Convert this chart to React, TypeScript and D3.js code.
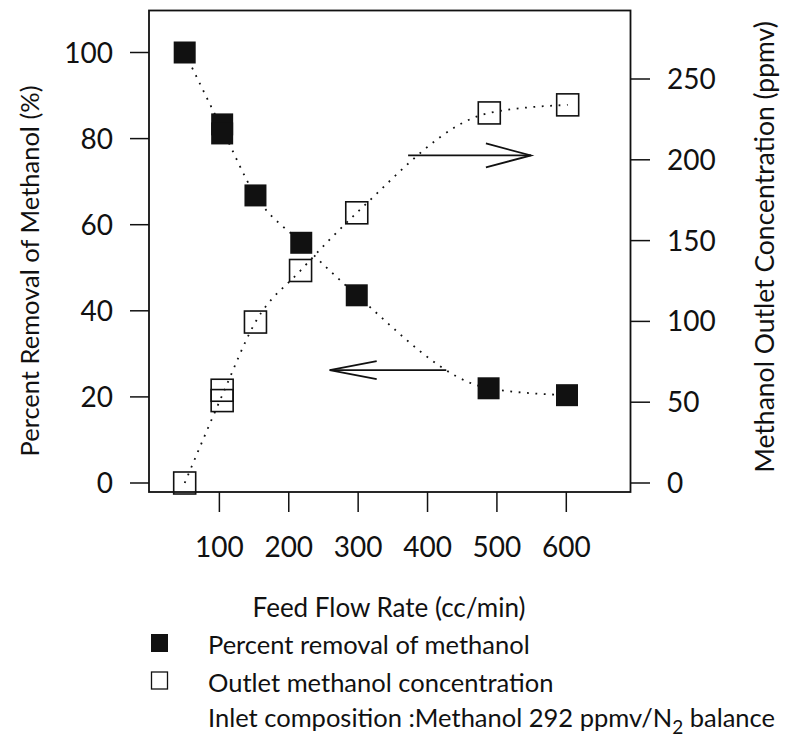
import React from "react";
import * as d3 from "d3";

const flowRemoval = [50, 104, 104, 152, 218, 298, 488, 601];
const removalPct = [100, 83.3, 81.2, 66.8, 55.8, 43.6, 22.0, 20.4];
const flowOutlet = [50, 104, 104, 152, 217, 298, 489, 602];
const outletPpmv = [0, 57.4, 51.0, 99.6, 131.5, 167.2, 229, 234];
const xTicks = [100, 200, 300, 400, 500, 600];
const leftTicks = [0, 20, 40, 60, 80, 100];
const rightTicks = [0, 50, 100, 150, 200, 250];

const W = 802;
const H = 740;
const FONT = "Lato, 'Noto Sans', sans-serif";
const INK = "#111";

const frame = { left: 149, right: 630.5, top: 10.5, bottom: 492 };

const x = d3.scaleLinear().domain([0, 600]).range([150, 566.3]);
const yL = d3.scaleLinear().domain([0, 100]).range([483, 52.5]);
const yR = d3.scaleLinear().domain([0, 250]).range([483, 79]);

type P = { x: number; y: number };

function meanByX(xs: number[], ys: number[]): P[] {
  const r = d3.rollup(
    xs.map((v, i) => ({ x: v, y: ys[i] })),
    (g) => d3.mean(g, (d) => d.y) as number,
    (d) => d.x
  );
  return Array.from(r, ([k, v]) => ({ x: k, y: v })).sort((a, b) => a.x - b.x);
}

export default function App() {
  const remPts = flowRemoval.map((v, i) => ({ x: v, y: removalPct[i] }));
  const outPts = flowOutlet.map((v, i) => ({ x: v, y: outletPpmv[i] }));
  const lineL = d3
    .line<P>()
    .x((d) => x(d.x))
    .y((d) => yL(d.y))
    .curve(d3.curveMonotoneX);
  const lineR = d3
    .line<P>()
    .x((d) => x(d.x))
    .y((d) => yR(d.y))
    .curve(d3.curveMonotoneX);
  const S = 22;

  const arrowR = { x1: 372, x2: 549, y: 202.7 };
  const arrowL = { x1: 259, x2: 427, y: 26.2 };

  return (
    <svg
      width={W}
      height={H}
      style={{ position: "absolute", left: 0, top: 0, background: "#fff" }}
      fontFamily={FONT}
    >
      <rect x={0} y={0} width={W} height={H} fill="#fff" />
      <rect
        x={frame.left}
        y={frame.top}
        width={frame.right - frame.left}
        height={frame.bottom - frame.top}
        fill="none"
        stroke={INK}
        strokeWidth={1.8}
      />
      {leftTicks.map((t) => (
        <g key={"l" + t}>
          <line x1={130} x2={frame.left} y1={yL(t)} y2={yL(t)} stroke={INK} strokeWidth={1.5} />
          <text x={113} y={yL(t)} dy="0.36em" textAnchor="end" fontSize={28} fill={INK}>
            {t}
          </text>
        </g>
      ))}
      {rightTicks.map((t) => (
        <g key={"r" + t}>
          <line x1={frame.right} x2={650} y1={yR(t)} y2={yR(t)} stroke={INK} strokeWidth={1.5} />
          <text x={667} y={yR(t)} dy="0.36em" textAnchor="start" fontSize={28} fill={INK}>
            {t}
          </text>
        </g>
      ))}
      {xTicks.map((t) => (
        <g key={"x" + t}>
          <line x1={x(t)} x2={x(t)} y1={frame.bottom} y2={512} stroke={INK} strokeWidth={1.5} />
          <text x={x(t)} y={557} textAnchor="middle" fontSize={28} fill={INK}>
            {t}
          </text>
        </g>
      ))}
      <text
        transform={`translate(39,271) rotate(-90)`}
        textAnchor="middle"
        fontSize={25.5}
        fill={INK}
      >
        Percent Removal of Methanol (%)
      </text>
      <text
        transform={`translate(774,247) rotate(-90)`}
        textAnchor="middle"
        fontSize={26.5}
        fill={INK}
      >
        Methanol Outlet Concentration (ppmv)
      </text>
      <text x={389} y={617} textAnchor="middle" fontSize={26} fill={INK}>
        Feed Flow Rate (cc/min)
      </text>

      <path
        d={lineL(meanByX(flowRemoval, removalPct)) || ""}
        fill="none"
        stroke={INK}
        strokeWidth={1.8}
        strokeDasharray="1.8 6.6"
      />
      <path
        d={lineR(meanByX(flowOutlet, outletPpmv)) || ""}
        fill="none"
        stroke={INK}
        strokeWidth={1.8}
        strokeDasharray="1.8 6.6"
      />

      {remPts.map((d, i) => (
        <rect key={"f" + i} x={x(d.x) - S / 2} y={yL(d.y) - S / 2} width={S} height={S} fill={INK} />
      ))}
      {outPts.map((d, i) => (
        <rect
          key={"o" + i}
          x={x(d.x) - S / 2}
          y={yR(d.y) - S / 2}
          width={S}
          height={S}
          fill="none"
          stroke={INK}
          strokeWidth={1.6}
        />
      ))}

      <g stroke={INK} strokeWidth={1.8} fill="none">
        <line x1={x(arrowR.x1)} x2={x(arrowR.x2)} y1={yR(arrowR.y)} y2={yR(arrowR.y)} />
        <polyline
          points={`${x(arrowR.x2) - 45},${yR(arrowR.y) - 12} ${x(arrowR.x2)},${yR(arrowR.y)} ${x(arrowR.x2) - 45},${yR(arrowR.y) + 12}`}
        />
        <line x1={x(arrowL.x1)} x2={x(arrowL.x2)} y1={yL(arrowL.y)} y2={yL(arrowL.y)} />
        <polyline
          points={`${x(arrowL.x1) + 47},${yL(arrowL.y) - 9} ${x(arrowL.x1)},${yL(arrowL.y)} ${x(arrowL.x1) + 47},${yL(arrowL.y) + 9}`}
        />
      </g>

      <rect x={151} y={634} width={17} height={18} fill={INK} />
      <text x={208} y={654} fontSize={25.5} fill={INK}>
        Percent removal of methanol
      </text>
      <rect x={151.5} y={672} width={16} height={17} fill="none" stroke={INK} strokeWidth={1.3} />
      <text x={208} y={692} fontSize={25.5} fill={INK}>
        Outlet methanol concentration
      </text>
      <text x={208} y={727} fontSize={25.5} fill={INK}>
        Inlet composition :Methanol 292 ppmv/N
        <tspan fontSize={19} dy={7}>2</tspan>
        <tspan dy={-7}> balance</tspan>
      </text>
    </svg>
  );
}
